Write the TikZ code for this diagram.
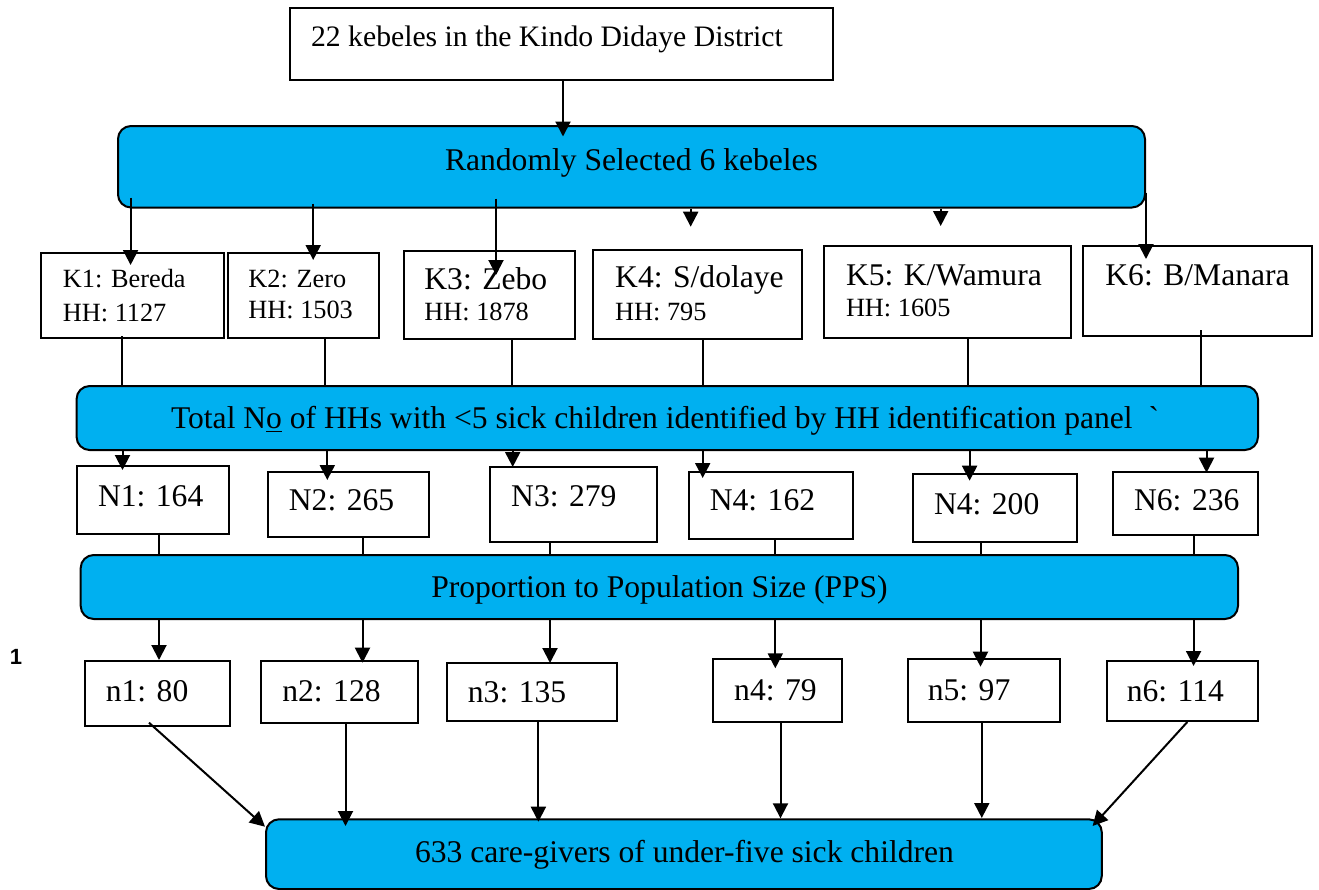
\documentclass[tikz,border=0pt]{standalone}
\usepackage{fontspec}
\setmainfont{Liberation Serif}
\newfontfamily\rawserif{Liberation Serif}[Ligatures=TeXOff]
\newfontfamily\numfont{Liberation Sans}
\usetikzlibrary{arrows.meta,fit,calc}
\definecolor{boxblue}{HTML}{00B0F0}
\tikzset{
  wbox/.style={draw=black, line width=1pt, fill=white, inner sep=0pt},
  bbox/.style={draw=black, line width=1pt, fill=boxblue, rounded corners=6.5pt, inner sep=0pt},
  lbl/.style={anchor=base west, inner sep=0pt, font=\fontsize{15.8}{18}\selectfont},
  lbltop/.style={anchor=base west, inner sep=0pt, font=\fontsize{14.85}{18}\selectfont},
  lblsm/.style={anchor=base west, inner sep=0pt, font=\fontsize{13.15}{15}\selectfont},
  ctr/.style={anchor=base, inner sep=0pt, font=\fontsize{15.8}{18}\selectfont},
  arr/.style={line width=1pt, -{Triangle[length=7.5pt,width=7.5pt]}},
  conn/.style={line width=1pt},
}
\begin{document}
\begin{tikzpicture}[x=0.5pt,y=-0.5pt]
\useasboundingbox (0,0) rectangle (1319,890);

% ---------- boxes ----------
\node[wbox, fit={(290,8.3) (833,80)}] (T) {};
\node[bbox, fit={(118,126) (1145,207.5)}] (B1) {};

\node[wbox, fit={(40.7,252.7) (224,338.3)}] (K1) {};
\node[wbox, fit={(227.5,252.7) (379.4,338)}] (K2) {};
\node[wbox, fit={(404,250.7) (574.6,339)}] (K3) {};
\node[wbox, fit={(592.5,250) (802.3,339)}] (K4) {};
\node[wbox, fit={(823.75,246) (1071,337.7)}] (K5) {};
\node[wbox, fit={(1083.3,246) (1311.7,336)}] (K6) {};

\node[bbox, fit={(76.6,386) (1258,450)}] (B2) {};

\node[wbox, fit={(76.6,466) (228.8,533.5)}] (N1) {};
\node[wbox, fit={(268.4,471.7) (429,536.7)}] (N2) {};
\node[wbox, fit={(490,466.7) (657,541.7)}] (N3) {};
\node[wbox, fit={(688.9,471.7) (853,539.3)}] (N4) {};
\node[wbox, fit={(913,474) (1077,541.7)}] (N5) {};
\node[wbox, fit={(1112.7,471.7) (1257.9,535)}] (N6) {};

\node[bbox, fit={(80.7,555) (1238,619)}] (B3) {};

\node[wbox, fit={(85,661) (229.8,726)}] (n1) {};
\node[wbox, fit={(261,661) (417.6,723.3)}] (n2) {};
\node[wbox, fit={(446.7,663.3) (616.7,720.7)}] (n3) {};
\node[wbox, fit={(713,659.3) (842.4,721.7)}] (n4) {};
\node[wbox, fit={(908,659.3) (1060,721.7)}] (n5) {};
\node[wbox, fit={(1106.5,661) (1257.8,720.7)}] (n6) {};

\node[bbox, fit={(266,819.3) (1101.8,889)}] (B4) {};

% ---------- texts ----------
\node[lbltop] (Tt) at (310.7,46.7) {22 kebeles in the Kindo Didaye District};
\node[ctr] (B1t) at (631.5,170) {Randomly Selected 6 kebeles};

\node[lblsm] (K1a) at (62.5,287) {K1: Bereda};
\node[lblsm] (K1b) at (62.5,321.7) {HH: 1127};
\node[lblsm] (K2a) at (248,287) {K2: Zero};
\node[lblsm] (K2b) at (248,318) {HH: 1503};
\node[lbl] (K3a) at (424,289) {K3: Zebo};
\node[lblsm] (K3b) at (424,320) {HH: 1878};
\node[lbl] (K4a) at (614.8,287) {K4: S/dolaye};
\node[lblsm] (K4b) at (614.8,320) {HH: 795};
\node[lbl] (K5a) at (845.6,285) {K5: K/Wamura};
\node[lblsm] (K5b) at (845.6,316.7) {HH: 1605};
\node[lbl] (K6a) at (1105,285) {K6: B/Manara};

\node[ctr] (B2t) at (665,428.3) {\rawserif Total N\underline{o} of HHs with <5 sick children identified by HH identification panel ~`};

\node[lbl] (N1t) at (97.6,506.7) {N1: 164};
\node[lbl] (N2t) at (288.5,510.7) {N2: 265};
\node[lbl] (N3t) at (510.8,506) {N3: 279};
\node[lbl] (N4t) at (709.4,510.7) {N4: 162};
\node[lbl] (N5t) at (933.6,514) {N4: 200};
\node[lbl] (N6t) at (1133.7,510.7) {N6: 236};

\node[ctr] (B3t) at (659.5,597) {Proportion to Population Size (PPS)};

\node[lbl] (n1t) at (105.4,701.7) {n1: 80};
\node[lbl] (n2t) at (281.9,701.7) {n2: 128};
\node[lbl] (n3t) at (467.5,702.7) {n3: 135};
\node[lbl] (n4t) at (733.8,700) {n4: 79};
\node[lbl] (n5t) at (927.4,700) {n5: 97};
\node[lbl] (n6t) at (1126.4,701.7) {n6: 114};

\node[ctr] (B4t) at (684.5,862.5) {633 care-givers of under-five sick children};

\node[anchor=base, inner sep=0pt, font=\numfont\bfseries\fontsize{11}{12}\selectfont] (one) at (16,664) {1};

% ---------- connectors ----------
\coordinate (t0) at (563,136.5);
\draw[arr] (T.south -| t0) -- (t0);

\coordinate (kt1) at (130.6,265);
\draw[arr] ($(B1.south -| kt1)+(0,-11)$) -- (kt1);
\coordinate (kt2) at (313.2,260);
\draw[arr] ($(B1.south -| kt2)+(0,-5)$) -- (kt2);
\coordinate (kt3) at (496,275);
\draw[arr] ($(B1.south -| kt3)+(0,-10)$) -- (kt3);
\coordinate (kt4) at (690.7,226.7);
\draw[arr] (B1.south -| kt4) -- (kt4);
\coordinate (kt5) at (940.7,226);
\draw[arr] (B1.south -| kt5) -- (kt5);
\coordinate (kt6) at (1146,259);
\draw[arr] ($(B1.south -| kt6)+(0,-16)$) -- (kt6);

\coordinate (kx1) at (122,0);
\coordinate (kx2) at (325,0);
\coordinate (kx3) at (512,0);
\coordinate (kx4) at (703,0);
\coordinate (kx5) at (968,0);
\coordinate (kx6) at (1201,0);
\draw[conn] ($(K1.south -| kx1)+(0,-3)$) -- (B2.north -| kx1);
\draw[conn] ($(K2.south -| kx2)+(0,-2)$) -- (B2.north -| kx2);
\draw[conn] (K3.south -| kx3) -- (B2.north -| kx3);
\draw[conn] (K4.south -| kx4) -- (B2.north -| kx4);
\draw[conn] (K5.south -| kx5) -- (B2.north -| kx5);
\draw[conn] ($(K6.south -| kx6)+(0,-7)$) -- (B2.north -| kx6);

\coordinate (nt1) at (122.5,470);
\coordinate (nt2) at (327.3,480);
\coordinate (nt3) at (512.7,467);
\coordinate (nt4) at (702.7,478);
\coordinate (nt5) at (969.6,480.7);
\coordinate (nt6) at (1206.5,472.7);
\draw[arr] (B2.south -| nt1) -- (nt1);
\draw[arr] (B2.south -| nt2) -- (nt2);
\draw[arr] (B2.south -| nt3) -- (nt3);
\draw[arr] (B2.south -| nt4) -- (nt4);
\draw[arr] (B2.south -| nt5) -- (nt5);
\draw[arr] (B2.south -| nt6) -- (nt6);

\coordinate (nx1) at (158.5,0);
\coordinate (nx2) at (362.5,0);
\coordinate (nx3) at (550,0);
\coordinate (nx4) at (774.7,0);
\coordinate (nx5) at (981,0);
\coordinate (nx6) at (1193.8,0);
\draw[conn] ($(N1.south -| nx1)+(0,-2)$) -- (B3.north -| nx1);
\draw[conn] (N2.south -| nx2) -- (B3.north -| nx2);
\draw[conn] (N3.south -| nx3) -- (B3.north -| nx3);
\draw[conn] (N4.south -| nx4) -- (B3.north -| nx4);
\draw[conn] (N5.south -| nx5) -- (B3.north -| nx5);
\draw[conn] (N6.south -| nx6) -- (B3.north -| nx6);

\coordinate (st1) at (159,660);
\coordinate (st2) at (362.5,662.7);
\coordinate (st3) at (550,663);
\coordinate (st4) at (775.3,668.3);
\coordinate (st5) at (980.5,666.7);
\coordinate (st6) at (1193.6,666);
\draw[arr] (B3.south -| st1) -- (st1);
\draw[arr] (B3.south -| st2) -- (st2);
\draw[arr] (B3.south -| st3) -- (st3);
\draw[arr] (B3.south -| st4) -- (st4);
\draw[arr] (B3.south -| st5) -- (st5);
\draw[arr] (B3.south -| st6) -- (st6);

\coordinate (f1) at (149,722.7);
\coordinate (g1) at (265,826.7);
\draw[arr] (f1) -- (g1);
\coordinate (g2) at (345.5,826);
\draw[arr] ($(n2.south -| g2)+(0,-1)$) -- (g2);
\coordinate (g3) at (538.4,821.7);
\draw[arr] (n3.south -| g3) -- (g3);
\coordinate (g4) at (780.5,818.3);
\draw[arr] (n4.south -| g4) -- (g4);
\coordinate (g5) at (981.8,818);
\draw[arr] (n5.south -| g5) -- (g5);
\coordinate (f6) at (1187.3,722);
\coordinate (g6) at (1092.6,826);
\draw[arr] (f6) -- (g6);
\end{tikzpicture}
\end{document}
